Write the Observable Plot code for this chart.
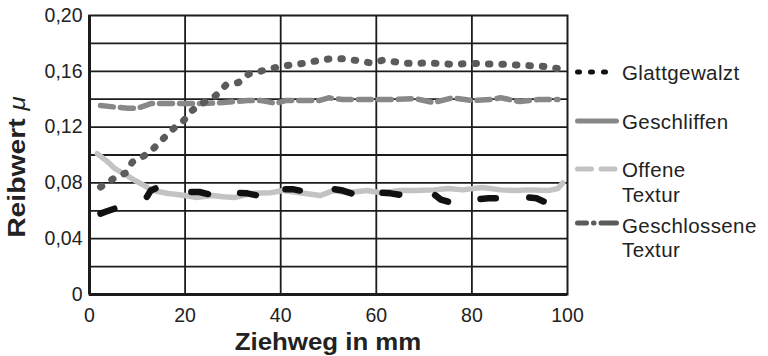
<!DOCTYPE html>
<html>
<head>
<meta charset="utf-8">
<script src="https://cdn.jsdelivr.net/npm/d3@7"></script>
<script src="https://cdn.jsdelivr.net/npm/@observablehq/plot@0.6"></script>
<style>
  html, body { margin: 0; padding: 0; background: #fff; }
  #chart { width: 768px; height: 356px; }
</style>
</head>
<body>
<div id="chart"></div>
<script>
// ---------- data ----------
const xTicks = [0, 20, 40, 60, 80, 100];
const yTicks = [0, 0.04, 0.08, 0.12, 0.16, 0.20];
const yGridLines = [0.02, 0.04, 0.06, 0.08, 0.10, 0.12, 0.14, 0.16, 0.18];
const xGridLines = [20, 40, 60, 80];

const seriesNames = ["Glattgewalzt", "Geschliffen", "Offene Textur", "Geschlossene Textur"];

// Glattgewalzt (black, drawn as separate dashes; null = gap)
const glattX = [2.3, 3.5, 5.2, 8, 12, 12.8, 13.8, 17, 21.3, 23, 24.8, 28, 31.5, 33, 34.8, 38, 41, 42.5, 44, 48, 51.3, 53, 54.8, 58, 61.3, 63, 64.8, 68, 72.3, 73.5, 75, 78, 81.8, 83.5, 85, 88, 92, 93.5, 95];
const glattY = [0.058, 0.0595, 0.0615, null, 0.070, 0.0745, 0.076, null, 0.0735, 0.0735, 0.072, null, 0.0728, 0.0725, 0.0712, null, 0.0755, 0.0755, 0.0745, null, 0.0755, 0.0745, 0.0725, null, 0.073, 0.0725, 0.0715, null, 0.0712, 0.068, 0.0665, null, 0.0685, 0.069, 0.069, null, 0.0695, 0.069, 0.0667];

// Geschliffen (mid grey)
const schliffX = [2.3, 5, 8, 10, 13, 17, 20, 24, 28, 33, 36, 39, 41, 45, 48, 50, 53, 56, 60, 64, 68, 72, 76, 80, 84, 86, 90, 94, 98];
const schliffY = [0.1355, 0.1345, 0.1335, 0.1335, 0.137, 0.137, 0.137, 0.137, 0.1376, 0.139, 0.139, 0.137, 0.139, 0.139, 0.139, 0.141, 0.1398, 0.1398, 0.1398, 0.1398, 0.1405, 0.1376, 0.141, 0.139, 0.1398, 0.141, 0.1383, 0.1398, 0.1398];

// Offene Textur (light grey)
const offenX = [1.6, 3.5, 5.4, 7.5, 9.6, 11.5, 13.2, 16.5, 20, 22.2, 25.7, 28, 30.5, 33.7, 37.9, 40.6, 44, 48.3, 51, 54, 58, 61, 65, 68.2, 72, 75.1, 78, 82.2, 86, 89.1, 92, 96, 98, 99];
const offenY = [0.101, 0.096, 0.090, 0.086, 0.0817, 0.078, 0.0745, 0.0724, 0.071, 0.0696, 0.071, 0.070, 0.0696, 0.0724, 0.073, 0.0745, 0.073, 0.071, 0.0745, 0.073, 0.0745, 0.073, 0.0745, 0.0745, 0.075, 0.076, 0.075, 0.0767, 0.075, 0.0745, 0.075, 0.0745, 0.076, 0.080];

// Geschlossene Textur (dark grey)
const geschlX = [2.3, 5.4, 7.5, 9, 11.5, 13.5, 15.5, 17.6, 19.7, 21.5, 23.9, 26.4, 28.5, 31.2, 33.3, 36.4, 39.3, 42, 44.6, 47.5, 50.4, 53.1, 56, 58.8, 61.5, 64.5, 67.2, 70.7, 73.5, 75.9, 79, 81.8, 84.5, 87, 89.5, 92.3, 95, 97.9];
const geschlY = [0.077, 0.084, 0.087, 0.095, 0.0996, 0.105, 0.112, 0.119, 0.1247, 0.132, 0.1376, 0.1426, 0.150, 0.152, 0.158, 0.1606, 0.163, 0.1645, 0.1656, 0.1675, 0.169, 0.169, 0.1677, 0.166, 0.168, 0.1665, 0.1656, 0.166, 0.1655, 0.165, 0.1655, 0.1656, 0.165, 0.165, 0.1645, 0.164, 0.1635, 0.162];

// ---------- styles ----------
const colors = { glatt: "#111111", schliff: "#888888", offen: "#c3c3c3", geschl: "#5b5b5b" };
const ink = "#1c1c1c";

const toRows = (xs, ys) => xs.map((x, i) => ({ x, y: ys[i] }));
const fmt = d => d === 0 ? "0" : d.toFixed(2).replace(".", ",");

const chart = Plot.plot({
  width: 768,
  height: 356,
  marginLeft: 89,
  marginRight: 201,
  marginTop: 15,
  marginBottom: 62,
  x: { domain: [0, 100] },
  y: { domain: [0, 0.2] },
  style: { fontFamily: "'Liberation Sans', Arial, sans-serif", fontSize: "19.5px", color: "#222", background: "white", overflow: "visible" },
  marks: [
    Plot.gridY(yGridLines, { stroke: ink, strokeOpacity: 1, strokeWidth: 1.8 }),
    Plot.gridX(xGridLines, { stroke: ink, strokeOpacity: 1, strokeWidth: 1.8 }),
    Plot.frame({ stroke: ink, strokeWidth: 2 }),
    Plot.ruleX([0], { stroke: ink, strokeWidth: 3 }),
    Plot.ruleY([0], { stroke: ink, strokeWidth: 3 }),
    Plot.axisY(yTicks, { tickSize: 0, tickPadding: 7, tickFormat: fmt, label: null, style: { letterSpacing: "0.9px" } }),
    Plot.axisX(xTicks, { tickSize: 0, tickPadding: 14, label: null, style: { letterSpacing: "0.9px" } }),
    Plot.line(toRows(offenX, offenY), { x: "x", y: "y", stroke: colors.offen, strokeWidth: 5.5 }),
    Plot.line(toRows(glattX, glattY), { x: "x", y: "y", stroke: colors.glatt, strokeWidth: 6.5 }),
    Plot.line(toRows(schliffX, schliffY), { x: "x", y: "y", stroke: colors.schliff, strokeWidth: 5.5, strokeDasharray: "13,7" }),
    Plot.line(toRows(geschlX, geschlY), { x: "x", y: "y", stroke: colors.geschl, strokeWidth: 7, strokeDasharray: "1.5,12" })
  ]
});

document.getElementById("chart").appendChild(chart);

const svg = d3.select(chart);

// axis titles
svg.append("text")
  .attr("transform", "translate(328,350) scale(1.1,1)")
  .attr("text-anchor", "middle")
  .attr("font-family", "'Liberation Sans', Arial, sans-serif")
  .attr("font-weight", "bold")
  .attr("font-size", 23.5)
  .attr("fill", "#222")
  .text("Ziehweg in mm");

const yt = svg.append("text")
  .attr("transform", "translate(25,167) rotate(-90) scale(1.18,1)")
  .attr("text-anchor", "middle")
  .attr("font-family", "'Liberation Sans', Arial, sans-serif")
  .attr("font-size", 24)
  .attr("fill", "#222");
yt.append("tspan").attr("font-weight", "bold").text("Reibwert ");
yt.append("tspan").attr("font-style", "italic").attr("font-weight", "normal").attr("font-size", 22).text("μ");

// legend
const legendStyles = [
  { stroke: colors.glatt, width: 5, dash: "2,11", y: 72, base: [80] },
  { stroke: colors.schliff, width: 5, dash: null, y: 121, base: [129] },
  { stroke: colors.offen, width: 5, dash: "14,9.5", y: 169, base: [177, 202] },
  { stroke: colors.geschl, width: 5, dash: "9,7,0.5,7,20", y: 223, base: [233, 257] }
];
const lg = svg.append("g").attr("text-anchor", "start");
legendStyles.forEach((s, i) => {
  const l = lg.append("line")
    .attr("x1", 577.5).attr("x2", 616.5)
    .attr("y1", s.y).attr("y2", s.y)
    .attr("stroke", s.stroke).attr("stroke-width", s.width)
    .attr("stroke-linecap", "round");
  if (s.dash) l.attr("stroke-dasharray", s.dash);
  const words = seriesNames[i].split(" ");
  words.forEach((t, j) => {
    lg.append("text")
      .attr("x", 622).attr("y", s.base[j])
      .attr("text-anchor", "start")
      .attr("font-family", "'Liberation Sans', Arial, sans-serif")
      .attr("font-size", 20.5)
      .attr("letter-spacing", "0.4px")
      .attr("fill", "#222")
      .text(t);
  });
});
</script>
</body>
</html>
